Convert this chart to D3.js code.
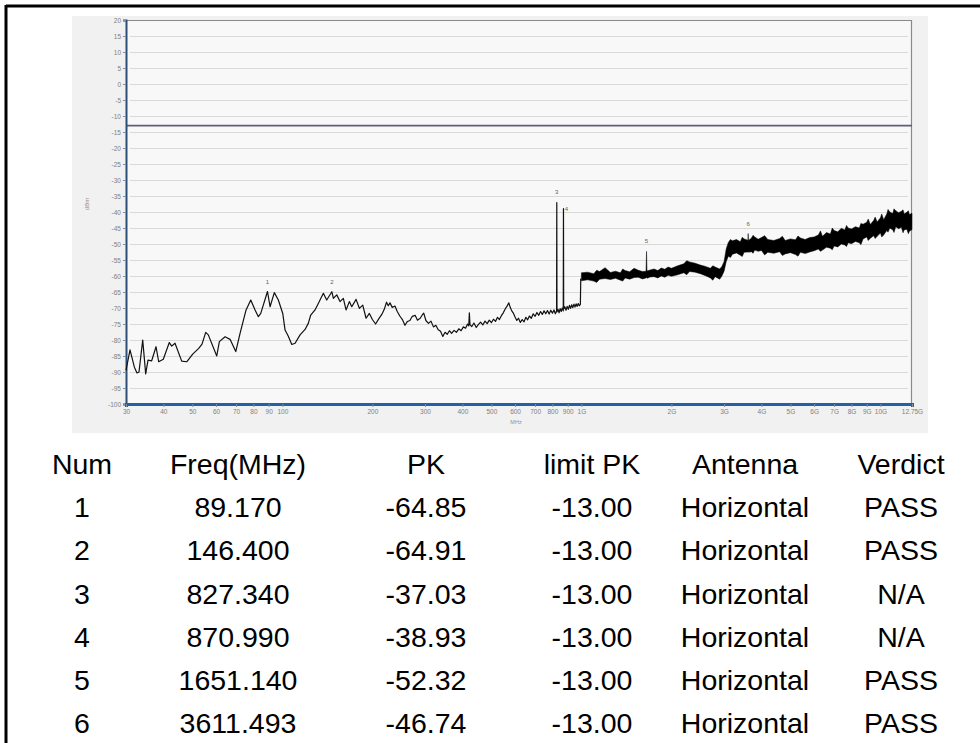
<!DOCTYPE html>
<html><head><meta charset="utf-8">
<script src="https://cdn.jsdelivr.net/npm/d3@7/dist/d3.min.js"></script>
<style>
html,body{margin:0;padding:0;background:#fff;}
svg{display:block;}
</style></head>
<body>
<svg id="c" width="980" height="743"></svg>
<script>
// ---- axis ticks ----
const yTickValues = [20,15,10,5,0,-5,-10,-15,-20,-25,-30,-35,-40,-45,-50,-55,-60,-65,-70,-75,-80,-85,-90,-95,-100];
const xTickValues = [30,40,50,60,70,80,90,100,200,300,400,500,600,700,800,900,1000,2000,3000,4000,5000,6000,7000,8000,9000,10000,12750];
const xTickLabels = ["30","40","50","60","70","80","90","100","200","300","400","500","600","700","800","900","1G","2G","3G","4G","5G","6G","7G","8G","9G","10G","12.75G"];
const limitLevel = -13;

// ---- trace below 1 GHz (MHz, dBm) ----
const traceFreq = [30,30.94,32.0,32.65,33.16,34.12,34.91,35.54,36.56,37.8,38.59,39.98,41.87,42.65,43.75,46.07,47.88,50.14,52.51,53.87,55.42,56.54,60.34,61.56,64.32,66.85,69.85,72.2,75.62,78.4,81.04,83.13,84.68,89.17,90.97,94.0,96.95,100.3,102.1,104.7,107.5,110.3,114.6,119.1,122.1,124.4,128.6,132.9,137.1,140.7,146.4,148.1,152.0,155.9,159.9,163.3,167.5,170.6,176.4,180.9,185.7,190.5,195.4,
200,205,210,215,219,223,226,229,233,238,242,247,252,257,262,267,272,278,283,289,294,297,302,308,314,320,326,332,338,344,350,356,362,368,375,382,389,396,403,410,416,420,422,424,430,437,445,452,460,468,476,484,492,500,508,516,524,532,540,548,556,564,572,578,585,592,600,608,616,625,634,643,652,661,670,680,690,700,710,720,730,740,750,760,770,780,790,800,810,818,826,827.34,828.6,835,842,849,856,863,869.6,870.99,872.4,880,888,896,904,912,920,928,936,944,952,960,968,976,984,992,995];
const traceLevel = [-89.5,-83.1,-88.5,-90.3,-90.0,-80.0,-90.6,-86.3,-86.5,-82.1,-86.8,-86.0,-80.8,-81.9,-81.0,-86.6,-86.8,-84.4,-82.6,-81.3,-77.6,-78.4,-85.0,-80.5,-79.0,-79.8,-83.6,-77.9,-70.6,-67.5,-70.6,-72.7,-71.7,-64.85,-69.6,-65.2,-67.5,-71.7,-76.9,-78.8,-81.4,-81.0,-78.4,-76.7,-74.8,-72.2,-70.6,-68.0,-65.4,-67.5,-64.91,-67.0,-65.9,-68.0,-67.0,-70.6,-68.0,-69.6,-67.3,-70.1,-69.1,-73.2,-71.7,
-73.6,-75.0,-73.4,-72.0,-70.5,-68.2,-69.3,-68.4,-69.8,-69.4,-71.0,-72.5,-73.6,-75.4,-74.2,-73.9,-72.6,-72.3,-73.8,-73.2,-72.1,-71.6,-73.9,-74.8,-74.1,-75.9,-75.4,-76.8,-77.3,-78.9,-77.6,-78.2,-77.1,-77.9,-77.0,-77.6,-76.5,-77.1,-75.9,-76.3,-75.0,-75.6,-71.5,-75.2,-75.8,-74.7,-76.1,-75.2,-74.4,-75.3,-74.1,-74.9,-73.8,-74.6,-73.5,-74.2,-72.9,-73.6,-72.4,-71.5,-70.3,-69.4,-68.4,-69.8,-70.9,-71.6,-72.8,-73.9,-73.2,-74.5,-73.6,-74.3,-72.9,-73.7,-72.5,-73.2,-71.8,-72.6,-71.4,-72.3,-71.1,-72.0,-70.9,-71.8,-70.8,-71.9,-70.7,-71.6,-70.6,-71.8,-70.9,-37.03,-71.2,-70.4,-71.5,-70.2,-71.1,-70.0,-70.9,-38.93,-70.3,-69.6,-70.7,-69.5,-70.4,-69.2,-70.1,-69.0,-69.9,-68.8,-69.7,-68.7,-69.5,-68.6,-69.3,-68.9,-60.8];

// ---- dense trace above 1 GHz: envelope (MHz, dBm) ----
const bandFreq = [1000,1050,1100,1125,1150,1200,1250,1300,1350,1375,1400,1450,1500,1550,1600,1645,1651.14,1657,1700,1750,1800,1850,1900,1950,2000,
2100,2200,2250,2300,2400,2500,2600,2700,2750,2800,2900,2950,3000,3050,3100,3150,3200,3300,3400,3450,3500,3605,3611.493,3618,3700,3750,3800,3900,4000,
4100,4200,4400,4600,4700,4800,5000,5200,5300,5400,5600,5800,6000,6200,6300,6400,6600,6800,6900,7000,7200,7400,7600,7700,7800,8000,
8250,8500,8600,8750,9000,9100,9250,9500,9600,9750,10000,10100,10250,10500,10600,10750,11000,11100,11250,11500,11750,11900,12000,12250,12400,12500,12750];
const bandHigh = [-59.0,-58.8,-59.3,-58.2,-58.6,-57.4,-58.9,-58.5,-59.0,-57.8,-58.3,-58.7,-57.6,-58.2,-58.6,-58.5,-52.32,-58.4,-58.1,-57.8,-58.3,-57.5,-57.9,-57.2,-57.6,
-56.8,-56.2,-55.2,-55.6,-56.0,-56.6,-57.0,-57.6,-56.8,-57.2,-57.8,-57.0,-55.5,-51.5,-49.5,-48.6,-49.0,-48.6,-49.3,-47.9,-48.4,-48.8,-46.74,-48.9,-48.2,-47.3,-47.8,-48.5,-48.0,
-47.4,-48.6,-48.9,-48.3,-47.6,-48.9,-48.4,-48.7,-47.5,-48.1,-48.6,-48.0,-47.8,-47.2,-45.9,-47.6,-46.4,-46.9,-45.0,-45.8,-46.2,-45.1,-45.6,-44.2,-45.0,-45.3,
-44.6,-45.0,-43.6,-43.8,-43.2,-42.2,-43.9,-42.6,-41.6,-43.1,-41.8,-40.6,-42.4,-40.6,-39.2,-40.0,-40.5,-39.0,-39.6,-40.2,-39.8,-39.3,-40.6,-40.1,-39.6,-40.8,-40.4];
const bandLow = [-61.5,-61.2,-61.6,-62.0,-61.0,-60.8,-61.1,-60.7,-61.3,-61.6,-60.6,-61.0,-60.5,-60.4,-60.9,-60.6,-60.4,-60.7,-60.3,-60.2,-60.6,-60.0,-60.4,-59.8,-60.1,
-59.6,-59.0,-59.6,-58.6,-58.8,-59.3,-59.9,-60.6,-61.3,-60.2,-61.0,-60.0,-58.5,-55.5,-53.8,-54.2,-53.2,-52.8,-53.5,-53.9,-52.6,-52.5,-52.2,-52.6,-52.4,-52.9,-51.9,-52.3,-52.0,
-53.4,-52.6,-52.9,-52.4,-53.6,-53.1,-52.7,-53.3,-53.8,-52.6,-53.0,-52.5,-52.1,-51.6,-52.3,-51.9,-51.0,-51.3,-51.8,-50.6,-50.9,-50.0,-50.3,-50.8,-49.6,-49.9,
-49.2,-49.6,-50.2,-48.4,-47.8,-48.9,-48.2,-47.4,-48.3,-47.6,-46.6,-47.8,-47.2,-45.8,-46.3,-45.0,-45.6,-46.4,-44.6,-45.2,-44.8,-46.5,-45.6,-45.4,-46.8,-46.0,-45.5];

// ---- marker table ----
const tableHeaders = ["Num","Freq(MHz)","PK","limit PK","Antenna","Verdict"];
const markerNum = ["1","2","3","4","5","6"];
const markerFreq = [89.170,146.400,827.340,870.990,1651.140,3611.493];
const markerPK = [-64.85,-64.91,-37.03,-38.93,-52.32,-46.74];
const markerLimit = [-13.00,-13.00,-13.00,-13.00,-13.00,-13.00];
const markerAntenna = ["Horizontal","Horizontal","Horizontal","Horizontal","Horizontal","Horizontal"];
const markerVerdict = ["PASS","PASS","N/A","N/A","PASS","PASS"];

// ================= drawing =================
const svg = d3.select("#c");
const font = "'Liberation Sans', Arial, sans-serif";

// outer frame (top + left)
svg.append("line").attr("x1",6).attr("x2",980).attr("y1",6).attr("y2",6).attr("stroke","#000").attr("stroke-width",3);
svg.append("line").attr("x1",6).attr("x2",6).attr("y1",5).attr("y2",743).attr("stroke","#000").attr("stroke-width",3);

// chart picture background
svg.append("rect").attr("x",72).attr("y",16).attr("width",856).attr("height",417).attr("fill","#f1f1f1");

const x = d3.scaleLog().domain([30,12750]).range([126,912]);
const y = d3.scaleLinear().domain([-100,20]).range([404,20]);

// plot area
svg.append("rect").attr("x",126).attr("y",20).attr("width",786).attr("height",384).attr("fill","#f8f8f8");

// gridlines
svg.append("g").selectAll("line").data(yTickValues.filter(v=>v>-100 && v<20)).join("line")
  .attr("x1",130).attr("x2",908).attr("y1",d=>Math.round(y(d))+0.5).attr("y2",d=>Math.round(y(d))+0.5)
  .attr("stroke","#d9d9d9").attr("stroke-width",1);

// plot border top/right
svg.append("path").attr("d",`M126,20.5H911.5V404`).attr("fill","none").attr("stroke","#8a8a8a").attr("stroke-width",1.2);

// limit line
svg.append("line").attr("x1",126).attr("x2",912).attr("y1",y(limitLevel)).attr("y2",y(limitLevel))
  .attr("stroke","#5e5e7c").attr("stroke-width",1.8);

// y axis
const yAxis = d3.axisLeft(y).tickValues(yTickValues).tickFormat(d=>d).tickSize(3).tickPadding(2);
const gy = svg.append("g").attr("transform","translate(126,0)").call(yAxis);
gy.select(".domain").attr("stroke","#2b4f77").attr("stroke-width",2);
gy.selectAll(".tick line").attr("stroke","#8090a0");
gy.selectAll("text").attr("font-family",font).attr("font-size",6.5).attr("fill","#808080");

// x axis
const xAxis = d3.axisBottom(x).tickValues(xTickValues).tickFormat((d,i)=>xTickLabels[i]).tickSize(3).tickPadding(2);
const gx = svg.append("g").attr("transform","translate(0,404)").call(xAxis);
gx.select(".domain").attr("stroke","#2161a6").attr("stroke-width",3);
gx.selectAll(".tick line").attr("stroke","#8090a0");
gx.selectAll("text").attr("font-family",font).attr("font-size",6.5).attr("fill","#808080");

// axis titles
svg.append("text").attr("x",516).attr("y",424).attr("text-anchor","middle").attr("font-family",font)
  .attr("font-size",5.5).attr("fill","#909090").text("MHz");
svg.append("text").attr("transform","translate(89,204) rotate(-90)").attr("text-anchor","middle").attr("font-family",font)
  .attr("font-size",6).attr("fill","#909090").text("dBm");

// trace below 1 GHz
const lowData = traceFreq.map((f,i)=>[f,traceLevel[i]]);
svg.append("path").datum(lowData)
  .attr("d", d3.line().x(d=>x(d[0])).y(d=>y(d[1])))
  .attr("fill","none").attr("stroke","#111").attr("stroke-width",1.2).attr("stroke-linejoin","round");

// dense band above 1 GHz
const bandData = bandFreq.map((f,i)=>[f,bandLow[i],bandHigh[i]]);
svg.append("path").datum(bandData)
  .attr("d", d3.area().x(d=>x(d[0])).y0(d=>y(d[1])).y1(d=>y(d[2])))
  .attr("fill","#000").attr("stroke","#000").attr("stroke-width",0.5);

// marker labels
const lbl = svg.append("g").attr("font-family",font).attr("font-size",6).attr("fill","#606060").attr("text-anchor","middle");
markerNum.forEach((n,i)=>{
  const dx = (n==="4") ? 3 : 0;
  const dy = (n==="4") ? 2 : -8;
  lbl.append("text").attr("x",x(markerFreq[i])+dx).attr("y",y(markerPK[i])+dy).text(n);
});

// table
const colX = [82,238,426,592,745,901];
const headY = 474, rowStep = 43.2;
const tbl = svg.append("g").attr("font-family",font).attr("font-size",28.5).attr("fill","#000").attr("text-anchor","middle");
tableHeaders.forEach((h,j)=>tbl.append("text").attr("x",colX[j]).attr("y",headY).text(h));
markerNum.forEach((n,i)=>{
  const row = [n, markerFreq[i].toFixed(3), markerPK[i].toFixed(2), markerLimit[i].toFixed(2), markerAntenna[i], markerVerdict[i]];
  row.forEach((t,j)=>tbl.append("text").attr("x",colX[j]).attr("y",headY+rowStep*(i+1)).text(t));
});
</script>
</body></html>
